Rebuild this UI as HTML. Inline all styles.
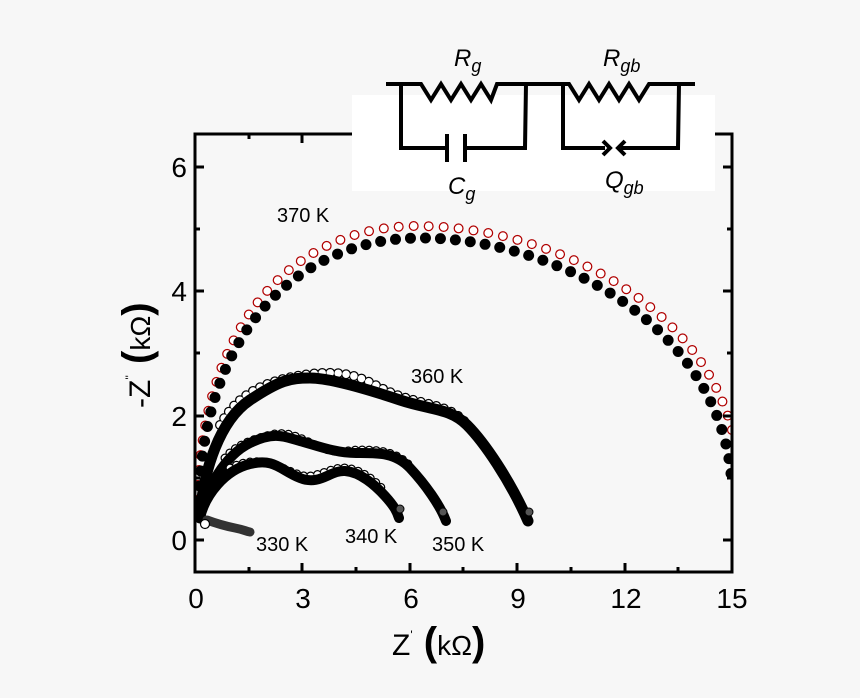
<!DOCTYPE html>
<html><head><meta charset="utf-8"><style>
html,body{margin:0;padding:0;background:#f7f7f7;}
svg{display:block;font-family:"Liberation Sans",Arial,sans-serif;}
</style></head><body>
<svg width="860" height="698" viewBox="0 0 860 698" xmlns="http://www.w3.org/2000/svg">
<rect width="860" height="698" fill="#f7f7f7"/>
<defs><clipPath id="c"><rect x="195" y="134" width="537" height="438"/></clipPath></defs>
<g clip-path="url(#c)" fill="none" stroke-linecap="round" stroke-linejoin="round">
<!-- 370K red open -->
<path d="M197,515 C198,320 295,226 417,226 C565,226 730,320 738,470" stroke="#b00000" stroke-width="10" stroke-dasharray="0 15"/>
<path d="M197,515 C198,320 295,226 417,226 C565,226 730,320 738,470" stroke="#fff" stroke-width="7.5" stroke-dasharray="0 15"/>
<!-- 370K black filled -->
<path d="M199,509 C200,330 300,238 420,238 C560,238 725,330 732,487" stroke="#000" stroke-width="11" stroke-dasharray="0 15" stroke-dashoffset="7"/>
<!-- 360K -->
<path d="M220,425 C235,398 260,380 310,374 S 370,386 400,396 S 450,405 467,424" stroke="#000" stroke-width="10" stroke-dasharray="0 8"/>
<path d="M220,425 C235,398 260,380 310,374 S 370,386 400,396 S 450,405 467,424" stroke="#fff" stroke-width="7.5" stroke-dasharray="0 8"/>
<path d="M200,518 C203,470 220,420 250,400 S 290,378 310,378 S 370,390 400,400 S 450,408 467,425 S 510,480 528,521" stroke="#000" stroke-width="11"/>
<circle cx="529" cy="512" r="4" fill="#555" stroke="#000"/>
<!-- 350K -->
<path d="M225,458 C235,446 250,440 270,435 S 300,439 320,447 S 345,450 360,450 S 395,450 410,466" stroke="#000" stroke-width="9" stroke-dasharray="0 7"/>
<path d="M225,458 C235,446 250,440 270,435 S 300,439 320,447 S 345,450 360,450 S 395,450 410,466" stroke="#fff" stroke-width="6.5" stroke-dasharray="0 7"/>
<path d="M200,518 C205,490 225,455 250,443 S 285,437 300,441 S 335,453 356,453 S 395,452 410,468 S 440,505 446,521" stroke="#000" stroke-width="10"/>
<circle cx="443" cy="512" r="4" fill="#555" stroke="#000"/>
<!-- 340K -->
<path d="M230,468 C240,463 250,461 262,462 S 285,470 300,475 S 330,467 345,468 S 375,480 385,492" stroke="#000" stroke-width="9" stroke-dasharray="0 7"/>
<path d="M230,468 C240,463 250,461 262,462 S 285,470 300,475 S 330,467 345,468 S 375,480 385,492" stroke="#fff" stroke-width="6.5" stroke-dasharray="0 7"/>
<path d="M200,518 C205,495 225,470 250,464 S 280,470 300,478 S 330,470 345,471 S 375,485 385,496 S 397,512 399,518" stroke="#000" stroke-width="10"/>
<circle cx="400" cy="509" r="4" fill="#555" stroke="#000"/>
<!-- 330K -->
<path d="M207,520 C215,523 225,526 235,528 S 245,531 250,532" stroke="#333" stroke-width="9"/>
<circle cx="205" cy="524" r="4.5" fill="#fff" stroke="#000" stroke-width="1.2"/>
</g>
<!-- frame -->
<rect x="195" y="134" width="537" height="438" fill="none" stroke="#000" stroke-width="3"/>
<g stroke="#000" stroke-width="3">
<line x1="195" y1="572" x2="195" y2="563"/><line x1="249" y1="572" x2="249" y2="567"/>
<line x1="302" y1="572" x2="302" y2="563"/><line x1="356" y1="572" x2="356" y2="567"/>
<line x1="410" y1="572" x2="410" y2="563"/><line x1="463" y1="572" x2="463" y2="567"/>
<line x1="517" y1="572" x2="517" y2="563"/><line x1="571" y1="572" x2="571" y2="567"/>
<line x1="625" y1="572" x2="625" y2="563"/><line x1="678" y1="572" x2="678" y2="567"/>
<line x1="249" y1="134" x2="249" y2="139"/><line x1="302" y1="134" x2="302" y2="143"/>
<line x1="195" y1="540" x2="204" y2="540"/><line x1="195" y1="478" x2="200" y2="478"/>
<line x1="195" y1="416" x2="204" y2="416"/><line x1="195" y1="353" x2="200" y2="353"/>
<line x1="195" y1="291" x2="204" y2="291"/><line x1="195" y1="229" x2="200" y2="229"/>
<line x1="195" y1="167" x2="204" y2="167"/>
<line x1="732" y1="540" x2="723" y2="540"/><line x1="732" y1="478" x2="727" y2="478"/>
<line x1="732" y1="416" x2="723" y2="416"/><line x1="732" y1="353" x2="727" y2="353"/>
<line x1="732" y1="291" x2="723" y2="291"/><line x1="732" y1="229" x2="727" y2="229"/>
<line x1="732" y1="167" x2="723" y2="167"/>
</g>
<g font-size="28" text-anchor="middle" fill="#000">
<text x="196" y="608">0</text><text x="303" y="608">3</text><text x="411" y="608">6</text>
<text x="518" y="608">9</text><text x="626" y="608">12</text><text x="732" y="608">15</text>
</g>
<g font-size="28" text-anchor="end" fill="#000">
<text x="187" y="550">0</text><text x="187" y="426">2</text><text x="187" y="301">4</text><text x="187" y="177">6</text>
</g>
<text x="392" y="655" font-size="30">Z<tspan font-size="12" dy="-16">'</tspan><tspan dy="16" font-size="40" font-weight="bold"> (</tspan><tspan font-size="28">kΩ</tspan><tspan font-size="40" font-weight="bold">)</tspan></text>
<text transform="translate(150,408) rotate(-90)" font-size="30">-Z<tspan font-size="12" dy="-16">''</tspan><tspan dy="16" font-size="40" font-weight="bold"> (</tspan><tspan font-size="28">kΩ</tspan><tspan font-size="40" font-weight="bold">)</tspan></text>
<g font-size="20" fill="#000">
<text x="277" y="222">370 K</text><text x="411" y="383">360 K</text>
<text x="256" y="551">330 K</text><text x="345" y="543">340 K</text><text x="432" y="551">350 K</text>
</g>
<!-- inset -->
<rect x="352" y="95" width="363" height="96" fill="#fff"/>
<g fill="none" stroke="#000" stroke-width="4">
<polyline points="386,84 421,84 431,100 441,84 451,100 461,84 471,100 481,84 491,100 497,84 545,84"/>
<polyline points="401,84 401,148 447,148"/>
<line x1="447" y1="134" x2="447" y2="162"/>
<line x1="465" y1="134" x2="465" y2="162"/>
<polyline points="465,148 525,148 526,84"/>
<polyline points="545,84 569,84 579,100 589,84 599,100 609,84 619,100 629,84 639,100 649,84 695,84"/>
<polyline points="563,84 563,148 605,148"/>
<polyline points="603,141 610,148 603,155"/>
<polyline points="625,141 618,148 625,155"/>
<polyline points="621,148 678,148 679,84"/>
</g>
<g font-size="24" font-style="italic">
<text x="454" y="66">R<tspan font-size="18" dy="6">g</tspan></text>
<text x="603" y="66">R<tspan font-size="18" dy="6">gb</tspan></text>
<text x="448" y="194">C<tspan font-size="18" dy="6">g</tspan></text>
<text x="605" y="188">Q<tspan font-size="18" dy="6">gb</tspan></text>
</g>
</svg>
</body></html>
